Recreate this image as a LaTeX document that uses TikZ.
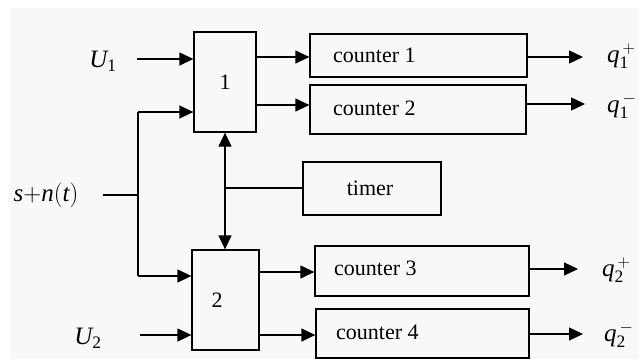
\documentclass[tikz,border=0pt]{standalone}
\usepackage{fontspec}
\setmainfont{Liberation Serif}
\usetikzlibrary{arrows.meta}
\definecolor{bgc}{HTML}{F8F8F8}
\begin{document}
\begin{tikzpicture}[x=1pt,y=-1pt,
  blk/.style={draw,line width=1.3pt,rectangle,inner sep=0pt},
  lbl/.style={inner sep=0pt,font=\fontsize{22}{25}\selectfont},
  var/.style={inner sep=0pt,font=\fontsize{25}{28}\selectfont},
  arr/.style={line width=1.3pt,-{Triangle[length=14pt,width=13pt]}},
  ln/.style={line width=1.3pt}]
\useasboundingbox (0,0) rectangle (639,359);
\fill[bgc] (10,8) rectangle (639,359);
% blocks
\node[blk,minimum width=62pt,minimum height=100pt] (b1) at (225,82) {};
\node[lbl] at (225,82) {1};
\node[blk,minimum width=67pt,minimum height=100pt] (b2) at (225.5,300) {};
\node[lbl] at (217,300) {2};
\node[blk,minimum width=217pt,minimum height=43pt] (c1) at (418.5,55.5) {};
\node[lbl,anchor=west] at (333,55.5) {counter 1};
\node[blk,minimum width=216pt,minimum height=49pt] (c2) at (418,109.5) {};
\node[lbl,anchor=west] at (333,108) {counter 2};
\node[blk,minimum width=138pt,minimum height=53pt] (tm) at (372,188.5) {};
\node[lbl] at (370,188) {timer};
\node[blk,minimum width=214pt,minimum height=50pt] (c3) at (422,271) {};
\node[lbl,anchor=west] at (334,268) {counter 3};
\node[blk,minimum width=213pt,minimum height=49pt] (c4) at (422.5,333.5) {};
\node[lbl,anchor=west] at (336,332) {counter 4};
% labels
\node[var] (u1) at (103,61) {$\mathit{U}_{\mathrm{1}}$};
\node[var] (u2) at (88,338) {$\mathit{U}_{\mathrm{2}}$};
\node[var] (sn) at (46,195) {$\mathit{s}\mathrm{+}\mathit{n}\mathrm{(}\mathit{t}\mathrm{)}$};
\node[var,anchor=west] (q1p) at (607,56) {$\mathit{q}_{\mathrm{1}}^{\,\mathrm{+}}$};
\node[var,anchor=west] (q1m) at (607,106) {$\mathit{q}_{\mathrm{1}}^{\,\mathrm{-}}$};
\node[var,anchor=west] (q2p) at (602,270) {$\mathit{q}_{\mathrm{2}}^{\,\mathrm{+}}$};
\node[var,anchor=west] (q2m) at (604,335) {$\mathit{q}_{\mathrm{2}}^{\,\mathrm{-}}$};
% coordinates
\coordinate (j1) at (138,112);
\coordinate (j2) at (138,276);
\coordinate (js) at (138,195);
\coordinate (sn0) at (103,195);
\coordinate (u1s) at (137,59);
\coordinate (u2s) at (140,335);
\coordinate (tj) at (225,188);
% inputs
\draw[arr] (u1s) -- (b1.west |- u1s);
\draw[arr] (u2s) -- (b2.west |- u2s);
\draw[ln] (sn0) -- (js);
\draw[ln] (j1) -- (j2);
\draw[arr] (j1) -- (b1.west |- j1);
\draw[arr] (j2) -- (b2.west |- j2);
% timer links
\draw[arr] (tj) -- (b1.south -| tj);
\draw[arr] (tj) -- (b2.north -| tj);
\draw[ln] (tj) -- (tm.west |- tj);
% block outputs
\draw[arr] (b1.east |- 0,57) -- (c1.west |- 0,57);
\draw[arr] (b1.east |- 0,105) -- (c2.west |- 0,105);
\draw[arr] (b2.east |- 0,272) -- (c3.west |- 0,272);
\draw[arr] (b2.east |- 0,335) -- (c4.west |- 0,335);
% counter outputs
\draw[arr] (c1.east |- 0,57) -- (583,57);
\draw[arr] (c2.east |- 0,104) -- (585,104);
\draw[arr] (c3.east |- 0,269) -- (578,269);
\draw[arr] (c4.east |- 0,334) -- (583,334);
\end{tikzpicture}
\end{document}
